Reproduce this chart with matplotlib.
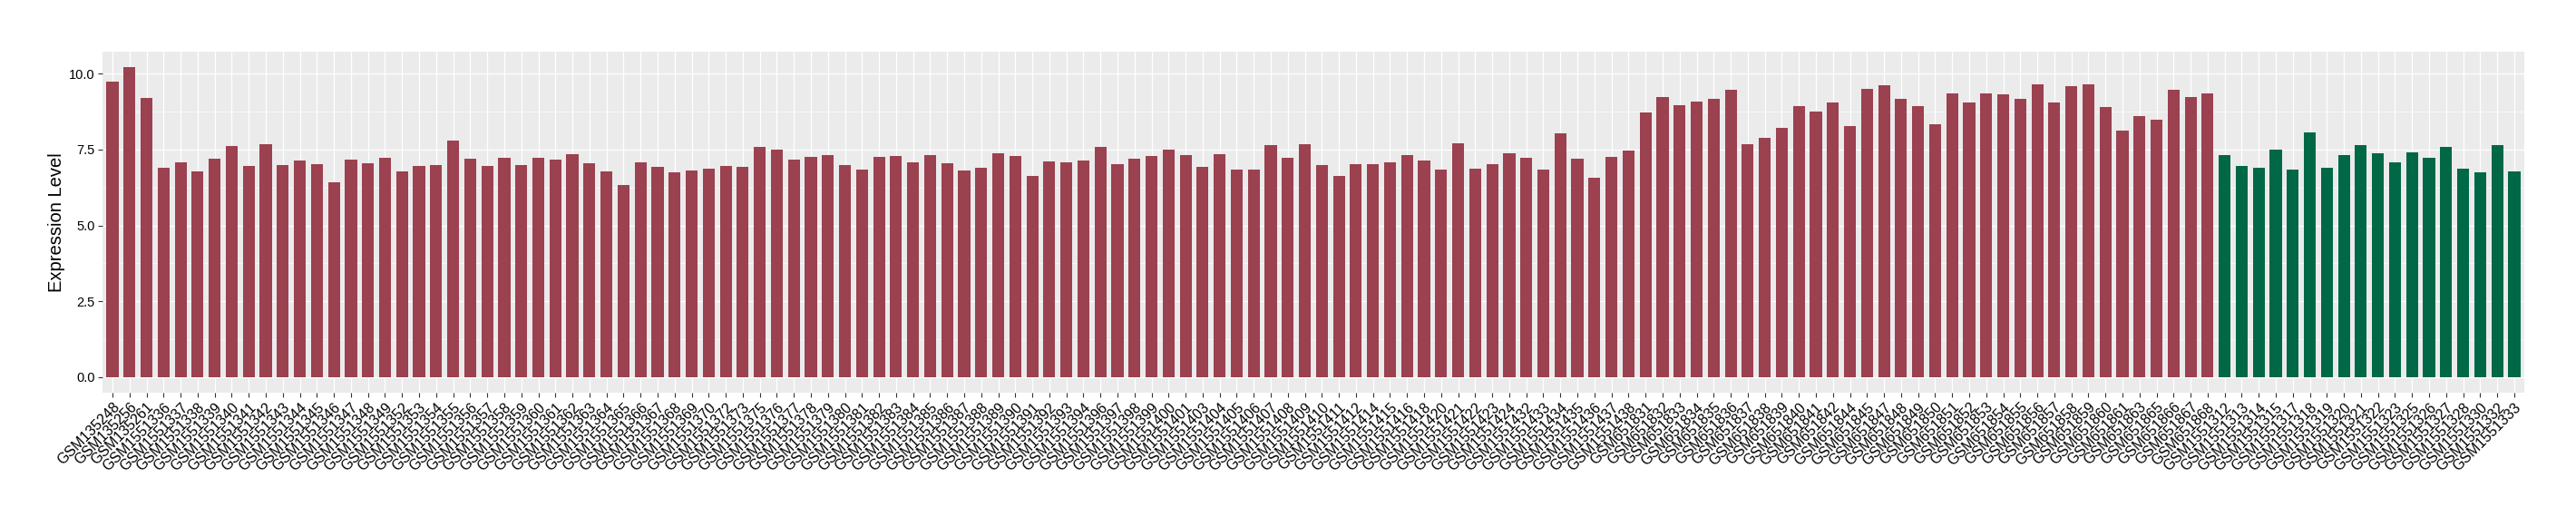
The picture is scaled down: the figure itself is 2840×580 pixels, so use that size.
import numpy as np
import matplotlib.pyplot as plt
from matplotlib.ticker import MultipleLocator

# Amostras do grupo 1 (barras vermelho escuro)
ids_grupo1 = ["135248", "135256", "135261",
              "1551336", "1551337", "1551338", "1551339", "1551340", "1551341", "1551342",
              "1551343", "1551344", "1551345", "1551346", "1551347", "1551348", "1551349",
              "1551352", "1551353", "1551354", "1551355", "1551356", "1551357", "1551358",
              "1551359", "1551360", "1551361", "1551362", "1551363", "1551364", "1551365",
              "1551366", "1551367", "1551368", "1551369", "1551370", "1551372", "1551373",
              "1551375", "1551376", "1551377", "1551378", "1551379", "1551380", "1551381",
              "1551382", "1551383", "1551384", "1551385", "1551386", "1551387", "1551388",
              "1551389", "1551390", "1551391", "1551392", "1551393", "1551394", "1551396",
              "1551397", "1551398", "1551399", "1551400", "1551401", "1551403", "1551404",
              "1551405", "1551406", "1551407", "1551408", "1551409", "1551410", "1551411",
              "1551412", "1551414", "1551415", "1551416", "1551418", "1551420", "1551421",
              "1551422", "1551423", "1551424", "1551432", "1551433", "1551434", "1551435",
              "1551436", "1551437", "1551438",
              "651831", "651832", "651833", "651834", "651835", "651836", "651837",
              "651838", "651839", "651840", "651841", "651842", "651844", "651845",
              "651847", "651848", "651849", "651850", "651851", "651852", "651853",
              "651854", "651855", "651856", "651857", "651858", "651859", "651860",
              "651861", "651863", "651865", "651866", "651867", "651868"]
expr_grupo1 = [9.74, 10.22, 9.20,
               6.90, 7.08, 6.78, 7.20, 7.62, 6.96, 7.68,
               6.99, 7.14, 7.02, 6.42, 7.17, 7.05, 7.23,
               6.78, 6.96, 6.99, 7.80, 7.20, 6.96, 7.23,
               6.99, 7.23, 7.17, 7.35, 7.05, 6.78, 6.33,
               7.08, 6.93, 6.75, 6.81, 6.87, 6.96, 6.93,
               7.59, 7.50, 7.17, 7.26, 7.32, 6.99, 6.84,
               7.26, 7.29, 7.08, 7.32, 7.05, 6.81, 6.90,
               7.38, 7.29, 6.63, 7.11, 7.08, 7.14, 7.59,
               7.02, 7.20, 7.29, 7.50, 7.32, 6.93, 7.35,
               6.84, 6.84, 7.65, 7.23, 7.68, 6.99, 6.63,
               7.02, 7.02, 7.08, 7.32, 7.14, 6.84, 7.71,
               6.87, 7.02, 7.38, 7.23, 6.84, 8.04, 7.20,
               6.57, 7.26, 7.47,
               8.73, 9.23, 8.96, 9.08, 9.17, 9.47, 7.68,
               7.89, 8.22, 8.93, 8.75, 9.05, 8.28, 9.50,
               9.62, 9.17, 8.93, 8.34, 9.35, 9.05, 9.35,
               9.32, 9.17, 9.65, 9.05, 9.59, 9.65, 8.90,
               8.13, 8.61, 8.49, 9.47, 9.23, 9.35]

# Amostras do grupo 2 (barras verdes)
ids_grupo2 = ["1551312", "1551313", "1551314", "1551315", "1551317", "1551318",
              "1551319", "1551320", "1551321", "1551322", "1551323", "1551325",
              "1551326", "1551327", "1551328", "1551330", "1551332", "1551333"]
expr_grupo2 = [7.32, 6.96, 6.90, 7.50, 6.84, 8.07,
               6.90, 7.32, 7.65, 7.38, 7.08, 7.41,
               7.23, 7.59, 6.87, 6.75, 7.65, 6.78]

cor_grupo1 = '#9B4150'
cor_grupo2 = '#006846'

amostras = ["GSM" + s for s in ids_grupo1 + ids_grupo2]
valores = expr_grupo1 + expr_grupo2
cores = [cor_grupo1] * len(ids_grupo1) + [cor_grupo2] * len(ids_grupo2)
x = np.arange(len(amostras))

plt.rcParams['font.family'] = ['Liberation Sans', 'DejaVu Sans']

fig = plt.figure(figsize=(28.4, 5.8), dpi=100)
ax = fig.add_axes([0.0397, 0.2534, 0.9403, 0.6488])

ax.set_facecolor('#EBEBEB')
ax.bar(x, valores, width=0.7, color=cores, zorder=3)

# Limites no estilo ggplot (expansao de 5% no y, 0.6 no x)
ymax = max(valores)
ax.set_ylim(-0.05 * ymax, 1.05 * ymax)
ax.set_xlim(-0.6, len(amostras) - 1 + 0.6)

ax.yaxis.set_minor_locator(MultipleLocator(1.25))
ax.set_yticks([0, 2.5, 5, 7.5, 10])
ax.set_yticklabels(['0.0', '2.5', '5.0', '7.5', '10.0'])
ax.set_xticks(x)
ax.set_xticklabels(amostras, rotation=45, ha='right', va='top',
                   rotation_mode='anchor', fontsize=11.5)

ax.grid(True, which='major', color='white', linewidth=0.9, zorder=0)
ax.grid(True, which='minor', axis='y', color='white', linewidth=0.45, zorder=0)
ax.set_axisbelow(True)
for s in ax.spines.values():
    s.set_visible(False)

ax.tick_params(axis='both', which='major', length=3.5, width=0.8, color='#333333',
               labelcolor='black', labelsize=10.5, pad=2.5)
ax.tick_params(axis='x', labelsize=11.5)
ax.tick_params(axis='y', which='minor', length=0)

ax.set_ylabel('Expression Level', fontsize=14.5, labelpad=3)

fig.savefig('out.png', dpi=100)
